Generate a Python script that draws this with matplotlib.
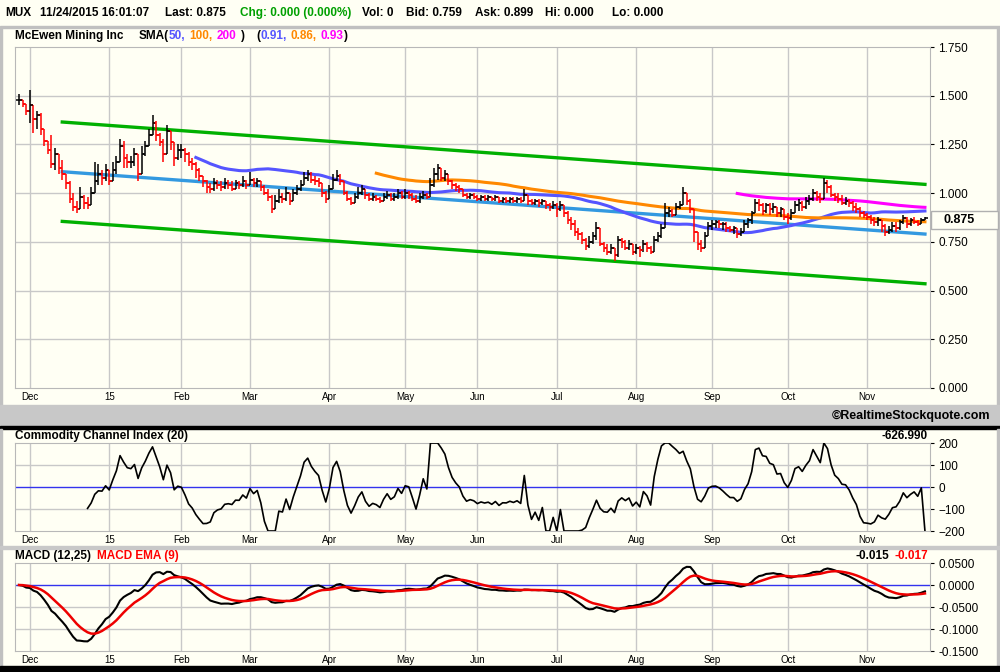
import numpy as np
import pandas as pd
import matplotlib
matplotlib.use('Agg')
import matplotlib.pyplot as plt
from matplotlib.patches import Rectangle
from matplotlib.ticker import FormatStrFormatter

plt.rcParams['font.family'] = ['Liberation Sans', 'DejaVu Sans']

# ---------------- data ----------------
first_day = '2014-11-25'
last_day = '2015-11-24'
market_holidays = ['2014-11-27', '2014-12-25', '2015-01-01', '2015-01-19', '2015-02-16',
                   '2015-04-03', '2015-05-25', '2015-07-03', '2015-09-07']

close = [
    1.48, 1.46, 1.42,  # Nov
    1.45, 1.38, 1.40, 1.33, 1.27, 1.22, 1.15, 1.20, 1.13, 1.10, 1.05, 0.97, 0.93, 0.92, 0.98, 0.95, 0.94, 1.00, 1.06, 1.10, 1.08, 1.12,  # Dec
    1.06, 1.12, 1.16, 1.24, 1.18, 1.16, 1.16, 1.20, 1.10, 1.20, 1.24, 1.30, 1.36, 1.30, 1.26, 1.20, 1.32, 1.26, 1.18, 1.22,  # Jan
    1.22, 1.20, 1.16, 1.15, 1.12, 1.09, 1.06, 1.03, 1.02, 1.05, 1.04, 1.03, 1.05, 1.04, 1.02, 1.05, 1.04, 1.06, 1.04,  # Feb
    1.07, 1.05, 1.06, 1.03, 1.00, 0.98, 0.92, 0.96, 0.98, 0.97, 1.00, 0.96, 1.00, 1.02, 1.04, 1.08, 1.10, 1.07, 1.06, 1.05, 1.00, 0.97,  # Mar
    1.02, 1.07, 1.09, 1.06, 1.00, 0.97, 0.95, 0.98, 1.00, 1.02, 0.99, 0.97, 0.98, 0.97, 0.96, 0.98, 0.99, 0.97, 0.98, 1.00, 0.98,  # Apr
    1.00, 0.99, 0.97, 0.96, 0.98, 0.99, 0.98, 1.04, 1.10, 1.13, 1.08, 1.10, 1.06, 1.04, 1.03, 1.02, 0.99, 0.98, 0.99, 0.98,  # May
    0.97, 0.98, 0.97, 0.98, 0.97, 0.98, 0.96, 0.97, 0.96, 0.97, 0.96, 0.97, 0.96, 0.99, 0.96, 0.95, 0.96, 0.95, 0.96, 0.94, 0.93, 0.94,  # Jun
    0.92, 0.94, 0.90, 0.86, 0.84, 0.80, 0.79, 0.76, 0.73, 0.75, 0.78, 0.82, 0.74, 0.72, 0.70, 0.72, 0.68, 0.76, 0.75, 0.72, 0.74, 0.70,  # Jul
    0.72, 0.71, 0.74, 0.72, 0.70, 0.76, 0.78, 0.82, 0.90, 0.91, 0.89, 0.93, 0.94, 1.00, 0.96, 0.92, 0.80, 0.74, 0.72, 0.78, 0.83,  # Aug
    0.84, 0.85, 0.84, 0.84, 0.82, 0.81, 0.82, 0.79, 0.80, 0.84, 0.86, 0.90, 0.95, 0.94, 0.91, 0.94, 0.92, 0.93, 0.90, 0.92, 0.88,  # Sep
    0.87, 0.90, 0.94, 0.95, 0.93, 0.96, 0.97, 1.00, 0.98, 0.97, 1.05, 1.03, 0.99, 0.98, 0.97, 0.95, 0.96, 0.95, 0.93, 0.92, 0.90, 0.89,  # Oct
    0.88, 0.86, 0.85, 0.86, 0.83, 0.80, 0.81, 0.83, 0.82, 0.85, 0.87, 0.84, 0.86, 0.85, 0.84, 0.86, 0.875,  # Nov
]
high = [
    1.51, 1.48, 1.46,
    1.53, 1.43, 1.42, 1.41, 1.33, 1.27, 1.30, 1.23, 1.20, 1.17, 1.10, 1.06, 1.00, 0.96, 1.03, 0.99, 0.98, 1.03, 1.16, 1.15, 1.12, 1.15,
    1.10, 1.16, 1.19, 1.28, 1.27, 1.20, 1.19, 1.23, 1.20, 1.24, 1.27, 1.33, 1.40, 1.37, 1.31, 1.28, 1.35, 1.31, 1.26, 1.25,
    1.25, 1.23, 1.21, 1.18, 1.16, 1.13, 1.09, 1.07, 1.05, 1.08, 1.07, 1.06, 1.08, 1.07, 1.06, 1.07, 1.06, 1.09, 1.07,
    1.11, 1.08, 1.08, 1.06, 1.04, 1.02, 0.99, 0.99, 1.02, 1.00, 1.03, 1.00, 1.02, 1.04, 1.07, 1.11, 1.12, 1.11, 1.09, 1.08, 1.05, 1.01,
    1.04, 1.10, 1.12, 1.10, 1.06, 1.01, 0.98, 1.00, 1.03, 1.04, 1.02, 1.00, 1.00, 0.99, 0.98, 1.00, 1.01, 1.00, 1.00, 1.02, 1.01,
    1.02, 1.01, 1.00, 0.99, 1.00, 1.01, 1.00, 1.08, 1.13, 1.15, 1.12, 1.12, 1.10, 1.07, 1.05, 1.04, 1.02, 1.00, 1.00, 1.00,
    0.99, 0.99, 0.99, 0.99, 0.98, 0.99, 0.98, 0.98, 0.98, 0.98, 0.98, 0.98, 0.98, 1.02, 0.99, 0.97, 0.97, 0.97, 0.97, 0.96, 0.95, 0.96,
    0.95, 0.96, 0.93, 0.91, 0.88, 0.86, 0.82, 0.80, 0.77, 0.78, 0.80, 0.85, 0.80, 0.75, 0.74, 0.74, 0.72, 0.78, 0.77, 0.76, 0.76, 0.74,
    0.74, 0.73, 0.76, 0.75, 0.73, 0.78, 0.80, 0.84, 0.95, 0.93, 0.92, 0.95, 0.96, 1.03, 0.99, 0.97, 0.91, 0.78, 0.76, 0.80, 0.85,
    0.86, 0.86, 0.86, 0.85, 0.85, 0.83, 0.83, 0.82, 0.82, 0.86, 0.87, 0.91, 0.97, 0.97, 0.95, 0.95, 0.95, 0.95, 0.93, 0.93, 0.91,
    0.90, 0.92, 0.96, 0.97, 0.96, 0.98, 0.99, 1.02, 1.01, 1.00, 1.08, 1.07, 1.04, 1.00, 1.00, 0.99, 0.98, 0.97, 0.96, 0.95, 0.93, 0.91,
    0.90, 0.89, 0.88, 0.88, 0.86, 0.84, 0.83, 0.85, 0.85, 0.86, 0.89, 0.88, 0.87, 0.88, 0.86, 0.87, 0.88,
]
low = [
    1.45, 1.44, 1.40,
    1.36, 1.31, 1.33, 1.30, 1.24, 1.20, 1.13, 1.12, 1.10, 1.07, 1.02, 0.95, 0.91, 0.90, 0.92, 0.92, 0.92, 0.94, 1.00, 1.04, 1.04, 1.06,
    1.04, 1.06, 1.10, 1.16, 1.13, 1.13, 1.13, 1.14, 1.06, 1.12, 1.19, 1.24, 1.30, 1.27, 1.24, 1.16, 1.20, 1.22, 1.14, 1.17,
    1.18, 1.16, 1.14, 1.12, 1.08, 1.06, 1.03, 1.00, 1.00, 1.01, 1.02, 1.01, 1.02, 1.02, 1.01, 1.02, 1.02, 1.03, 1.02,
    1.04, 1.03, 1.03, 1.01, 0.99, 0.96, 0.90, 0.92, 0.95, 0.95, 0.96, 0.94, 0.96, 0.99, 1.01, 1.04, 1.06, 1.05, 1.04, 1.03, 0.98, 0.95,
    0.97, 1.02, 1.06, 1.04, 0.99, 0.96, 0.94, 0.95, 0.97, 0.99, 0.97, 0.96, 0.96, 0.96, 0.95, 0.96, 0.97, 0.96, 0.96, 0.97, 0.97,
    0.97, 0.97, 0.96, 0.95, 0.95, 0.97, 0.97, 0.99, 1.03, 1.07, 1.06, 1.06, 1.04, 1.02, 1.01, 1.00, 0.98, 0.97, 0.97, 0.97,
    0.96, 0.96, 0.96, 0.96, 0.96, 0.96, 0.95, 0.95, 0.95, 0.95, 0.95, 0.95, 0.95, 0.96, 0.94, 0.94, 0.94, 0.93, 0.94, 0.92, 0.91, 0.92,
    0.88, 0.91, 0.88, 0.84, 0.81, 0.78, 0.76, 0.74, 0.71, 0.72, 0.74, 0.76, 0.73, 0.70, 0.68, 0.69, 0.65, 0.67, 0.72, 0.71, 0.71, 0.68,
    0.69, 0.67, 0.70, 0.70, 0.69, 0.70, 0.75, 0.77, 0.84, 0.88, 0.88, 0.89, 0.92, 0.95, 0.94, 0.90, 0.75, 0.71, 0.70, 0.72, 0.78,
    0.81, 0.82, 0.82, 0.81, 0.80, 0.80, 0.79, 0.77, 0.78, 0.80, 0.82, 0.84, 0.90, 0.91, 0.89, 0.90, 0.89, 0.90, 0.88, 0.88, 0.86,
    0.84, 0.86, 0.90, 0.91, 0.91, 0.92, 0.94, 0.96, 0.96, 0.95, 0.99, 1.00, 0.98, 0.96, 0.95, 0.94, 0.94, 0.93, 0.91, 0.90, 0.88, 0.87,
    0.86, 0.84, 0.83, 0.83, 0.80, 0.78, 0.79, 0.80, 0.80, 0.81, 0.84, 0.82, 0.83, 0.84, 0.83, 0.84, 0.86,
]

# live quote: its Hi/Lo read 0.000 and feed the last CCI bar
quote_high = 0.0
quote_low = 0.0

# regression channel drawn on the price panel
channel_start = 12
channel_mid = [1.11, 0.79]
channel_half = 0.255

sma_periods = [50, 100, 200]
sma_colors = ['#5555ff', '#ff8800', '#ff00ff']
cci_period = 20
macd_fast, macd_slow, macd_sig = 12, 25, 9

header = [
    (5, 'MUX', 'black'), (40, '11/24/2015 16:01:07', 'black'), (165, 'Last: 0.875', 'black'),
    (240, 'Chg: 0.000 (0.000%)', '#00a000'), (362, 'Vol: 0', 'black'), (406, 'Bid: 0.759', 'black'),
    (475, 'Ask: 0.899', 'black'), (545, 'Hi: 0.000', 'black'), (612, 'Lo: 0.000', 'black'),
]
# (text, colour, gap in px after it)
sma_legend = [
    ('McEwen Mining Inc', 'black', 15), ('SMA(', 'black', 0), ('50,', sma_colors[0], 4),
    ('100,', sma_colors[1], 4), ('200', sma_colors[2], 5), (')', 'black', 11),
    ('(', 'black', 0), ('0.91,', sma_colors[0], 4), ('0.86,', sma_colors[1], 4),
    ('0.93', sma_colors[2], 0), (')', 'black', 0),
]
last_price = '0.875'
cci_last = '-626.990'
macd_last = ['-0.015', '-0.017']

# ---------------- derived series ----------------
dates = pd.bdate_range(first_day, last_day, freq='C', holidays=market_holidays)
df = pd.DataFrame({'close': close, 'high': high, 'low': low}, index=dates)
n = len(df)
idx = np.arange(n)
prev_close = df['close'].shift(1).fillna(df['close'].iloc[0])

sma = [df['close'].rolling(p).mean() for p in sma_periods]

cci_hi = df['high'].copy()
cci_lo = df['low'].copy()
cci_hi.iloc[-1] = quote_high
cci_lo.iloc[-1] = quote_low
tp = (cci_hi + cci_lo + df['close']) / 3
tp_ma = tp.rolling(cci_period).mean()
tp_md = tp.rolling(cci_period).apply(lambda v: np.mean(np.abs(v - v.mean())), raw=True)
cci = ((tp - tp_ma) / (0.015 * tp_md)).clip(-200, 200)

macd = df['close'].ewm(span=macd_fast, adjust=False).mean() - df['close'].ewm(span=macd_slow, adjust=False).mean()
macd_signal = macd.ewm(span=macd_sig, adjust=False).mean()

month_start = [i for i in range(1, n) if dates[i].month != dates[i - 1].month]
month_lbl = ['%02d' % (dates[i].year % 100) if dates[i].month == 1 else dates[i].strftime('%b') for i in month_start]

# ---------------- figure ----------------
BG = '#fffff4'
GRID = '#c8c8c8'
W, H = 1000, 672
fig = plt.figure(figsize=(W / 100, H / 100), dpi=100, facecolor=BG)


def px_axes(x0, y0, x1, y1, **kw):
    return fig.add_axes([x0 / W, 1 - y1 / H, (x1 - x0) / W, (y1 - y0) / H], **kw)


bg = px_axes(0, 0, W, H, zorder=10)
bg.set_xlim(0, W)
bg.set_ylim(H, 0)
bg.axis('off')
bg.patch.set_visible(False)
bg.add_patch(Rectangle((0, 26), W, 2, color='#c0c0c0'))
bg.add_patch(Rectangle((0, 28), 2, 377, color='#c0c0c0'))
bg.add_patch(Rectangle((997, 28), 3, 377, color='#c0c0c0'))
bg.add_patch(Rectangle((0, 405), W, 21, color='#c8c8c8'))
bg.add_patch(Rectangle((0, 426), W, 3, color='black'))
bg.add_patch(Rectangle((0, 429), 2, 237, color='#c0c0c0'))
bg.add_patch(Rectangle((997, 429), 3, 237, color='#c0c0c0'))
bg.add_patch(Rectangle((0, 546), W, 3, color='#c8c8c8'))
bg.add_patch(Rectangle((0, 666), W, 6, color='black'))

TXT = dict(fontsize=8.5, fontweight='bold', va='center')
for x, s, c in header:
    bg.text(x, 13, s, color=c, **TXT)

renderer = fig.canvas.get_renderer()
x = 15
for s, c, gap in sma_legend:
    t = bg.text(x, 36, s, color=c, **TXT)
    x += t.get_window_extent(renderer).width + gap

bg.text(990, 416, '\u00a9RealtimeStockquote.com', fontsize=9, fontweight='bold', ha='right', va='center',
        family=['Liberation Sans Narrow', 'Liberation Sans'])
bg.text(15, 436, 'Commodity Channel Index (20)', **TXT)
bg.text(928, 436, cci_last, ha='right', **TXT)
bg.text(15, 556, 'MACD (12,25)', **TXT)
bg.text(97, 556, 'MACD EMA (9)', color='red', **TXT)
bg.text(889, 556, macd_last[0], ha='right', **TXT)
bg.text(928, 556, macd_last[1], ha='right', color='red', **TXT)

bg.add_patch(Rectangle((931, 211), 67, 18, facecolor=BG, edgecolor='#b0b0b0', lw=1))
bg.text(944, 220, last_price, fontsize=9, fontweight='bold', va='center')

xlim = (-1.1, 252.4)


def style(ax):
    ax.set_facecolor(BG)
    ax.set_xlim(*xlim)
    for sp in ax.spines.values():
        sp.set_color('#b8b8b8')
        sp.set_linewidth(0.8)
    ax.yaxis.tick_right()
    ax.tick_params(axis='y', length=3, pad=3, labelsize=8.5, color='black')
    ax.set_xticks(month_start)
    ax.set_xticklabels(month_lbl)
    ax.tick_params(axis='x', length=0, pad=3, labelsize=7)
    for i in month_start:
        ax.axvline(i, color=GRID, lw=1, zorder=0)


# price panel
ax = px_axes(15, 47, 930, 388)
style(ax)
ax.set_ylim(0, 1.75)
ax.set_yticks(np.arange(0, 1.751, 0.25))
ax.yaxis.set_major_formatter(FormatStrFormatter('%.3f'))
for y in np.arange(0.25, 1.75, 0.25):
    ax.axhline(y, color=GRID, lw=1, zorder=0)

cx = [channel_start, n - 1]
ax.plot(cx, [v + channel_half for v in channel_mid], color='#00b000', lw=2.4, zorder=2)
ax.plot(cx, [v - channel_half for v in channel_mid], color='#00b000', lw=2.4, zorder=2)
ax.plot(cx, channel_mid, color='#3399e0', lw=2.4, zorder=2)
for s, c in zip(sma, sma_colors):
    ax.plot(idx, s, color=c, lw=2.2, zorder=3)

colors = np.where(df['close'].values < prev_close.values, '#ff0000', 'black')
lo = np.minimum.reduce([df['low'].values, df['close'].values, prev_close.values])
hi = np.maximum.reduce([df['high'].values, df['close'].values, prev_close.values])
ax.vlines(idx, lo, hi, colors=colors, lw=1.1, zorder=4)
ax.hlines(prev_close.values, idx - 0.75, idx, colors=colors, lw=1.1, zorder=4)
ax.hlines(df['close'].values, idx, idx + 0.75, colors=colors, lw=1.1, zorder=4)

# CCI panel
ax2 = px_axes(15, 443, 930, 531)
style(ax2)
ax2.set_ylim(-200, 200)
ax2.set_yticks([-200, -100, 0, 100, 200])
for y in (-100, 100):
    ax2.axhline(y, color=GRID, lw=1, zorder=0)
ax2.axhline(0, color='#3333ee', lw=1, zorder=1)
ax2.plot(idx, cci, color='black', lw=1.2, zorder=3)

# MACD panel
ax3 = px_axes(15, 563, 930, 651)
style(ax3)
ax3.set_ylim(-0.15, 0.05)
ax3.set_yticks([-0.15, -0.1, -0.05, 0, 0.05])
ax3.yaxis.set_major_formatter(FormatStrFormatter('%.4f'))
for y in (-0.1, -0.05):
    ax3.axhline(y, color=GRID, lw=1, zorder=0)
ax3.axhline(0, color='#3333ee', lw=1, zorder=1)
ax3.plot(idx, macd, color='black', lw=1.5, zorder=3)
ax3.plot(idx, macd_signal, color='#ee0000', lw=1.8, zorder=4)

fig.savefig('out.png', dpi=100, facecolor=BG)
